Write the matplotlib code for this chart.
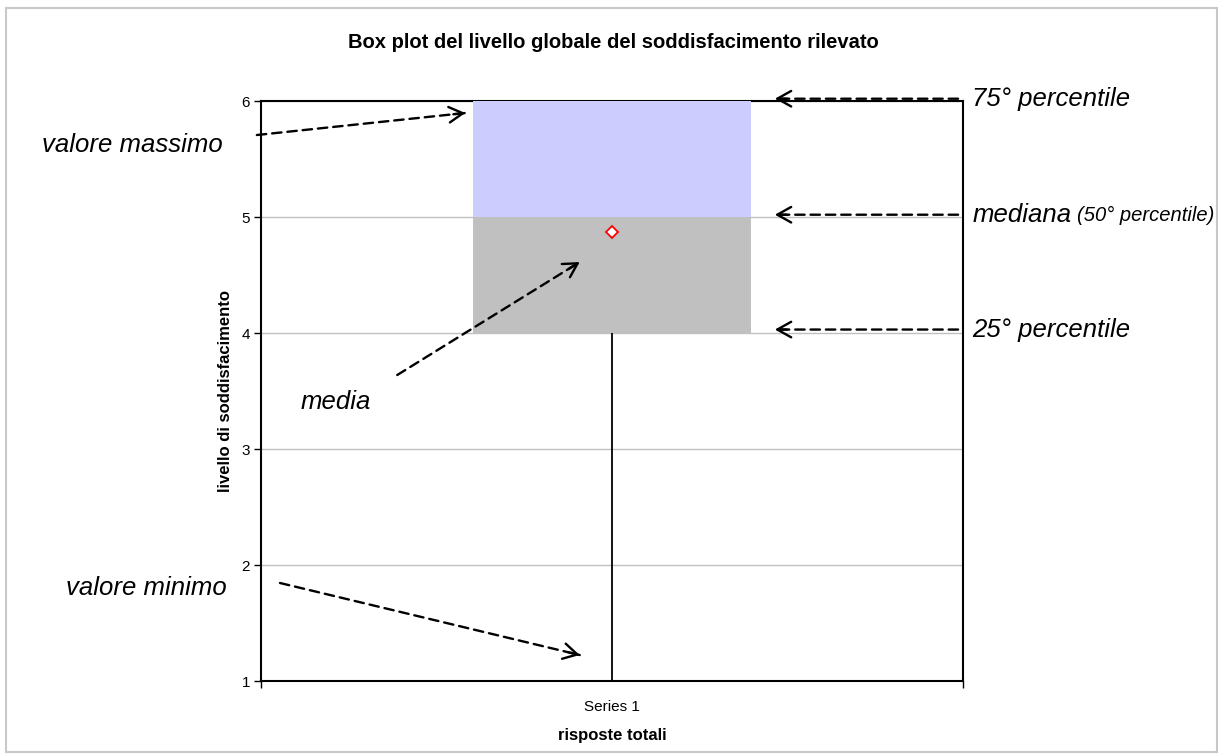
import numpy as np
import matplotlib
matplotlib.use("Agg")
import matplotlib.pyplot as plt
from matplotlib.patches import Rectangle

plt.rcParams['font.family'] = ['Liberation Sans', 'DejaVu Sans']

# summary statistics of the single series
series = ["Series 1"]
minimo = [1.0]
q1 = [4.0]
mediana = [5.0]
q3 = [6.0]
massimo = [6.0]
media = [4.87]

y_ticks = [1, 2, 3, 4, 5, 6]

fig = plt.figure(figsize=(12.21, 7.54), dpi=100)
ax = fig.add_axes([0.2138, 0.0968, 0.5749, 0.7692])

x = np.arange(1, len(series) + 1)
box_w = 0.396

# whiskers behind the box
for i in range(len(series)):
    ax.plot([x[i], x[i]], [minimo[i], q1[i]], color='black', lw=1.3, zorder=2)
    ax.plot([x[i], x[i]], [q3[i], massimo[i]], color='black', lw=1.3, zorder=2)

# lower box (q1 -> median) and upper box (median -> q3)
ax.bar(x, np.subtract(mediana, q1), bottom=q1, width=box_w, color='#C0C0C0', zorder=3)
ax.bar(x, np.subtract(q3, mediana), bottom=mediana, width=box_w, color='#CCCCFF', zorder=3)
ax.plot(x, media, linestyle='none', marker='D', markersize=6, mfc='white', mec='red', mew=1.3, zorder=5)

ax.set_xlim(0.5, len(series) + 0.5)
ax.set_ylim(1, 6)
ax.set_yticks(y_ticks)
ax.set_xticks(x)
ax.set_xticklabels(series, fontsize=11)
ax.set_xticks([0.5, len(series) + 0.5], minor=True)
ax.tick_params(axis='x', which='major', length=0, pad=14)
ax.tick_params(axis='x', which='minor', length=5, width=1)
ax.tick_params(axis='y', length=5, width=1, labelsize=11, pad=3)
ax.yaxis.grid(True, color='#C0C0C0', lw=1)
ax.set_axisbelow(True)
for s in ax.spines.values():
    s.set_linewidth(1.5)
    s.set_color('black')

ax.set_xlabel("risposte totali", fontsize=12, fontweight='bold', labelpad=10)
ax.set_ylabel("livello di soddisfacimento", fontsize=12, fontweight='bold', labelpad=6)
fig.text(0.502, 0.944, "Box plot del livello globale del soddisfacimento rilevato",
         ha='center', va='center', fontsize=14.5, fontweight='bold')

# outer frame of the chart
fig.patches.append(Rectangle((0.005, 0.003), 0.992, 0.987, transform=fig.transFigure,
                             fill=False, edgecolor='#C8C8C8', lw=1.5))

fs = 18.5


def dashed_arrow(tail, tip):
    ax.annotate('', xy=tip, xytext=tail, annotation_clip=False,
                arrowprops=dict(arrowstyle='-', linestyle=(0, (4, 2.5)), lw=1.7,
                                color='black', shrinkA=0, shrinkB=0))
    p0 = ax.transData.transform(tail)
    p1 = ax.transData.transform(tip)
    d = (p1 - p0) / np.hypot(*(p1 - p0))
    back = -d * 12
    ax.annotate('', xy=tip, xytext=(back[0], back[1]), textcoords='offset pixels',
                annotation_clip=False,
                arrowprops=dict(arrowstyle='->,head_length=0.5,head_width=0.28', lw=1.7,
                                color='black', shrinkA=0, shrinkB=0, mutation_scale=20))


# right side labels
dashed_arrow((1.493, q3[0] + 0.02), (1.232, q3[0] + 0.02))
ax.text(1.513, q3[0] + 0.02, "75° percentile", fontsize=fs, style='italic', ha='left', va='center')
dashed_arrow((1.493, mediana[0] + 0.02), (1.232, mediana[0] + 0.02))
ax.text(1.513, mediana[0] + 0.02, "mediana", fontsize=fs, style='italic', ha='left', va='center')
ax.text(1.662, mediana[0] + 0.01, "(50° percentile)", fontsize=14.5, style='italic', ha='left', va='center')
dashed_arrow((1.493, q1[0] + 0.03), (1.232, q1[0] + 0.03))
ax.text(1.513, q1[0] + 0.03, "25° percentile", fontsize=fs, style='italic', ha='left', va='center')

# left side labels
ax.text(0.188, 5.62, "valore massimo", fontsize=fs, style='italic', ha='left', va='center')
dashed_arrow((0.494, 5.707), (0.791, 5.897))
ax.text(0.556, 3.405, "media", fontsize=fs, style='italic', ha='left', va='center')
dashed_arrow((0.694, 3.638), (0.954, 4.612))
ax.text(0.222, 1.80, "valore minimo", fontsize=fs, style='italic', ha='left', va='center')
dashed_arrow((0.527, 1.845), (0.954, 1.224))

fig.savefig("out.png", dpi=100)
